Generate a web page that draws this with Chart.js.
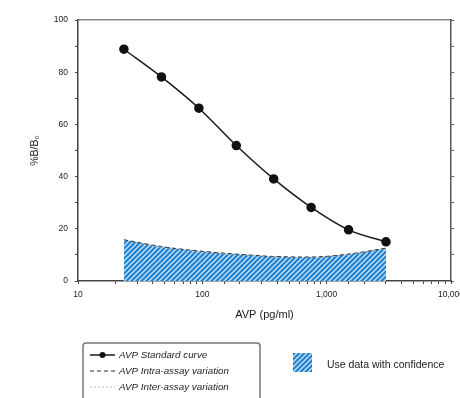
<!DOCTYPE html>
<html>
<head>
<meta charset="utf-8">
<script src="https://cdn.jsdelivr.net/npm/chart.js@4/dist/chart.umd.min.js"></script>
<style>
  html, body { margin: 0; padding: 0; background: #fff; }
  #wrap { width: 460px; height: 398px; position: relative; }
</style>
</head>
<body>
<div id="wrap"><canvas id="avpChart" width="460" height="398"></canvas></div>
<script>
// AVP standard doses (pg/ml), 2-fold dilution series
const doses = [23.4, 46.9, 93.8, 187.5, 375, 750, 1500, 3000];
// %B/B0 for each standard
const standardCurve = [88.8, 78.2, 66.2, 51.9, 39.1, 28.2, 19.6, 15.0];
// variation profiles (%CV) across the range
const intraAssay = [15.8, 13.2, 11.5, 10.3, 9.4, 9.2, 10.3, 12.6];
const interAssay = [15.4, 12.9, 11.2, 10.0, 9.1, 8.9, 10.0, 12.3];

const xMajorTicks = [10, 100, 1000, 10000];
const xTickLabels = ['10', '100', '1,000', '10,000'];
const yTickLabels = [0, 20, 40, 60, 80, 100];

const legendLabels = ['AVP Standard curve', 'AVP Intra-assay variation', 'AVP Inter-assay variation'];
const zoneLabel = 'Use data with confidence';

Chart.defaults.font.family = '"Liberation Sans", Arial, sans-serif';
Chart.defaults.color = '#1a1a1a';

// blue fill with white diagonal stripes
function makeHatch() {
  const s = 5;
  const c = document.createElement('canvas');
  c.width = s; c.height = s;
  const g = c.getContext('2d');
  g.fillStyle = '#1f80d2';
  g.fillRect(0, 0, s, s);
  g.strokeStyle = 'rgba(215,236,252,0.95)';
  g.lineWidth = 1.3;
  g.beginPath();
  g.moveTo(-1, s + 1); g.lineTo(s + 1, -1);
  g.moveTo(-1, 1); g.lineTo(1, -1);
  g.moveTo(s - 1, s + 1); g.lineTo(s + 1, s - 1);
  g.stroke();
  return g.createPattern(c, 'repeat');
}
const hatch = makeHatch();

function pts(ys) {
  return doses.map((d, i) => ({ x: d, y: ys[i] }));
}

const legendPlugin = {
  id: 'avpLegend',
  afterDraw(chart) {
    const ctx = chart.ctx;
    ctx.save();
    // boxed legend
    ctx.strokeStyle = '#777';
    ctx.lineWidth = 1.5;
    ctx.beginPath();
    ctx.roundRect(83, 343, 177, 70, 3);
    ctx.stroke();

    const rows = [355, 371, 387];
    const ds = chart.data.datasets;
    ctx.font = 'italic 9.8px "Liberation Sans", Arial, sans-serif';
    ctx.textBaseline = 'middle';
    rows.forEach((y, i) => {
      const d = ds[i];
      ctx.strokeStyle = d.borderColor;
      ctx.lineWidth = d.borderWidth;
      ctx.setLineDash(d.borderDash || []);
      ctx.beginPath();
      ctx.moveTo(90, y); ctx.lineTo(115, y);
      ctx.stroke();
      ctx.setLineDash([]);
      if (d.pointRadius) {
        ctx.fillStyle = d.pointBackgroundColor;
        ctx.beginPath();
        ctx.arc(102.5, y, 3, 0, Math.PI * 2);
        ctx.fill();
      }
      ctx.fillStyle = '#222';
      ctx.fillText(legendLabels[i], 119, y);
    });

    // hatched swatch
    ctx.fillStyle = hatch;
    ctx.fillRect(293, 353, 19, 19);
    ctx.fillStyle = '#222';
    ctx.font = '10.5px "Liberation Sans", Arial, sans-serif';
    ctx.fillText(zoneLabel, 327, 365);
    ctx.restore();
  }
};

new Chart(document.getElementById('avpChart').getContext('2d'), {
  type: 'line',
  data: {
    datasets: [{
      label: legendLabels[0],
      data: pts(standardCurve),
      borderColor: '#1a1a1a',
      borderWidth: 1.5,
      pointRadius: 4,
      pointBackgroundColor: '#111',
      pointBorderColor: '#111',
      cubicInterpolationMode: 'monotone',
      fill: false,
      order: 0
    }, {
      label: legendLabels[1],
      data: pts(intraAssay),
      borderColor: '#2b2b2b',
      borderWidth: 1,
      borderDash: [4, 3],
      pointRadius: 0,
      cubicInterpolationMode: 'monotone',
      fill: 'origin',
      backgroundColor: hatch,
      order: 2
    }, {
      label: legendLabels[2],
      data: pts(interAssay),
      borderColor: '#aaa',
      borderWidth: 1,
      borderDash: [1.5, 2.5],
      pointRadius: 0,
      cubicInterpolationMode: 'monotone',
      fill: false,
      order: 1
    }]
  },
  options: {
    responsive: false,
    animation: false,
    layout: { padding: { left: 27, right: 0, top: 20, bottom: 72 } },
    plugins: { legend: { display: false }, tooltip: { enabled: false } },
    scales: {
      x: {
        type: 'logarithmic',
        position: 'bottom',
        min: 10,
        max: 10000,
        afterFit: s => { s.height = 45; s.paddingLeft = 0; s.paddingRight = 0; },
        border: { color: '#444', width: 1.5 },
        grid: { drawOnChartArea: false, tickLength: 3, color: '#444' },
        ticks: {
          autoSkip: false,
          maxRotation: 0,
          padding: 6,
          font: { size: 8.5 },
          callback: v => {
            const i = xMajorTicks.findIndex(t => Math.abs(t - v) < 1e-6 * t);
            return i >= 0 ? xTickLabels[i] : '';
          }
        },
        title: {
          display: true,
          text: 'AVP (pg/ml)',
          font: { size: 11 },
          padding: { top: 0, bottom: 4 }
        }
      },
      xTop: {
        type: 'logarithmic',
        position: 'top',
        min: 10,
        max: 10000,
        afterFit: s => { s.height = 0; s.paddingLeft = 0; s.paddingRight = 0; },
        border: { display: true, color: '#888', width: 1.5 },
        grid: { drawOnChartArea: false, drawTicks: false },
        ticks: { display: false }
      },
      y: {
        position: 'left',
        min: 0,
        max: 100,
        afterFit: s => { s.width = 51; },
        border: { color: '#444', width: 1.5 },
        grid: { drawOnChartArea: false, tickLength: 3, color: '#444' },
        ticks: {
          stepSize: 10,
          padding: 7,
          font: { size: 8.5 },
          callback: v => yTickLabels.includes(v) ? String(v) : ''
        },
        title: {
          display: true,
          text: '%B/B\u2080',
          font: { size: 10.5 },
          padding: { top: 1.5, bottom: 0 }
        }
      },
      yRight: {
        position: 'right',
        min: 0,
        max: 100,
        afterFit: s => { s.width = 9; },
        border: { color: '#555', width: 1.5 },
        grid: { drawOnChartArea: false, tickLength: 3, color: '#555' },
        ticks: { stepSize: 10, display: false }
      }
    }
  },
  plugins: [legendPlugin]
});
</script>
</body>
</html>
